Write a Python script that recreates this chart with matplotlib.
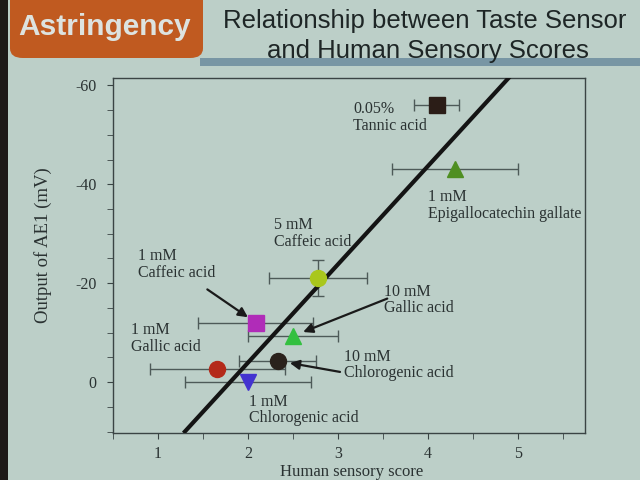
import matplotlib.pyplot as plt
from matplotlib.patches import FancyBboxPatch, Rectangle

plt.rcParams['axes.unicode_minus'] = False

# data
compounds = ['0.05%\nTannic acid', '1 mM\nEpigallocatechin gallate', '5 mM\nCaffeic acid',
             '1 mM\nCaffeic acid', '10 mM\nGallic acid', '10 mM\nChlorogenic acid',
             '1 mM\nGallic acid', '1 mM\nChlorogenic acid']
human_score = [4.1, 4.3, 2.78, 2.09, 2.5, 2.33, 1.66, 2.0]
human_err = [0.25, 0.7, 0.55, 0.64, 0.5, 0.43, 0.75, 0.7]
ae1_output = [-56, -43, -21, -12, -9.3, -4.3, -2.6, 0]
ae1_err = [0, 0, 3.6, 0, 0, 0, 0, 0]
markers = ['s', '^', 'o', 's', '^', 'o', 'o', 'v']
colors = ['#2b1d17', '#4f8f22', '#a9c71c', '#b02cb8', '#33c040', '#2a221c', '#b42a1a', '#4333d0']

fit_x = [1.3, 4.9]
fit_y = [10, -61.5]

# label offsets (points), arrow tail offsets, arrow shrink
label_off = [(-60, -9), (-19, -26), (-32, 32), (-85, 42), (66, 26), (48, -3), (-62, 22), (1, -20)]
arrow_off = [None, None, None, (-35, 24), (68, 27), (45, -8), None, None]
arrow_shrink = [0, 0, 0, 7, 8, 9, 0, 0]

bg = '#bccfc8'
ink = '#2a3232'

fig = plt.figure(figsize=(6.4, 4.8), dpi=100)
fig.patch.set_facecolor(bg)

# slide header
fig.patches.append(Rectangle((0, 0), 8 / 640, 1, transform=fig.transFigure,
                             facecolor='#1e1a18', edgecolor='none'))
fig.patches.append(Rectangle((200 / 640, 1 - 66 / 480), 440 / 640, 8 / 480, transform=fig.transFigure,
                             facecolor='#7896a4', edgecolor='none'))
fig.patches.append(FancyBboxPatch((10 / 640, 1 - 58 / 480), 193 / 640, 70 / 480,
                                  boxstyle='round,pad=0,rounding_size=0.02', transform=fig.transFigure,
                                  facecolor='#c05a20', edgecolor='none'))
fig.text(105 / 640, 1 - 27 / 480, 'Astringency', ha='center', va='center', fontsize=21.5,
         fontweight='bold', color='#dde3e0', family='Liberation Sans')
fig.text(425 / 640, 1 - 21 / 480, 'Relationship between Taste Sensor', ha='center', va='center',
         fontsize=18.5, color='#1e2626', family='Liberation Sans')
fig.text(428 / 640, 1 - 51 / 480, 'and Human Sensory Scores', ha='center', va='center',
         fontsize=18.5, color='#1e2626', family='Liberation Sans')

ax = fig.add_axes([113 / 640, 1 - 433 / 480, 472 / 640, 355 / 480])
ax.set_facecolor(bg)

for i in range(len(compounds)):
    yerr = ae1_err[i] if ae1_err[i] > 0 else None
    ax.errorbar(human_score[i], ae1_output[i], xerr=human_err[i], yerr=yerr, fmt='none',
                ecolor='#4d5a58', elinewidth=1, capsize=4, zorder=2)
ax.plot(fit_x, fit_y, color='#141414', lw=3, zorder=3)
for i in range(len(compounds)):
    ms = 12 if markers[i] in ('^', 'v') else 11.5
    ax.plot(human_score[i], ae1_output[i], marker=markers[i], ms=ms, color=colors[i],
            markeredgecolor=colors[i], linestyle='none', zorder=4)
    ax.annotate(compounds[i], (human_score[i], ae1_output[i]), xytext=label_off[i],
                textcoords='offset points', ha='left', va='center', fontsize=11.5,
                color=ink, family='Liberation Serif', linespacing=1.05)
    if arrow_off[i] is not None:
        ax.annotate('', (human_score[i], ae1_output[i]), xytext=arrow_off[i],
                    textcoords='offset points',
                    arrowprops=dict(arrowstyle='-|>', color='#1a1a1a', lw=1.6,
                                    shrinkA=0, shrinkB=arrow_shrink[i], mutation_scale=14))

ax.set_xlim(0.5, 5.75)
ax.set_ylim(10.3, -61.5)
ax.set_xticks([1, 2, 3, 4, 5])
ax.set_xticks([0.5, 1.5, 2.5, 3.5, 4.5, 5.5], minor=True)
ax.set_yticks([-60, -40, -20, 0])
ax.set_yticks([-55, -50, -45, -35, -30, -25, -15, -10, -5, 5, 10], minor=True)
ax.tick_params(which='both', direction='out', length=4, color='#3a4444', labelsize=11.5,
               labelcolor=ink)
ax.tick_params(axis='x', pad=5)
ax.tick_params(axis='y', pad=8)
for lab in ax.get_xticklabels() + ax.get_yticklabels():
    lab.set_family('Liberation Serif')
for s in ax.spines.values():
    s.set_color('#3a4444')
    s.set_linewidth(1)

ax.set_xlabel('Human sensory score', fontsize=12, color=ink, family='Liberation Serif', va='bottom')
ax.xaxis.set_label_coords(0.506, -0.131)
ax.set_ylabel('Output of AE1 (mV)', fontsize=13.5, color=ink, family='Liberation Serif')
ax.yaxis.set_label_coords(-0.13, 0.53)

fig.savefig('out.png', dpi=100, facecolor=bg)
